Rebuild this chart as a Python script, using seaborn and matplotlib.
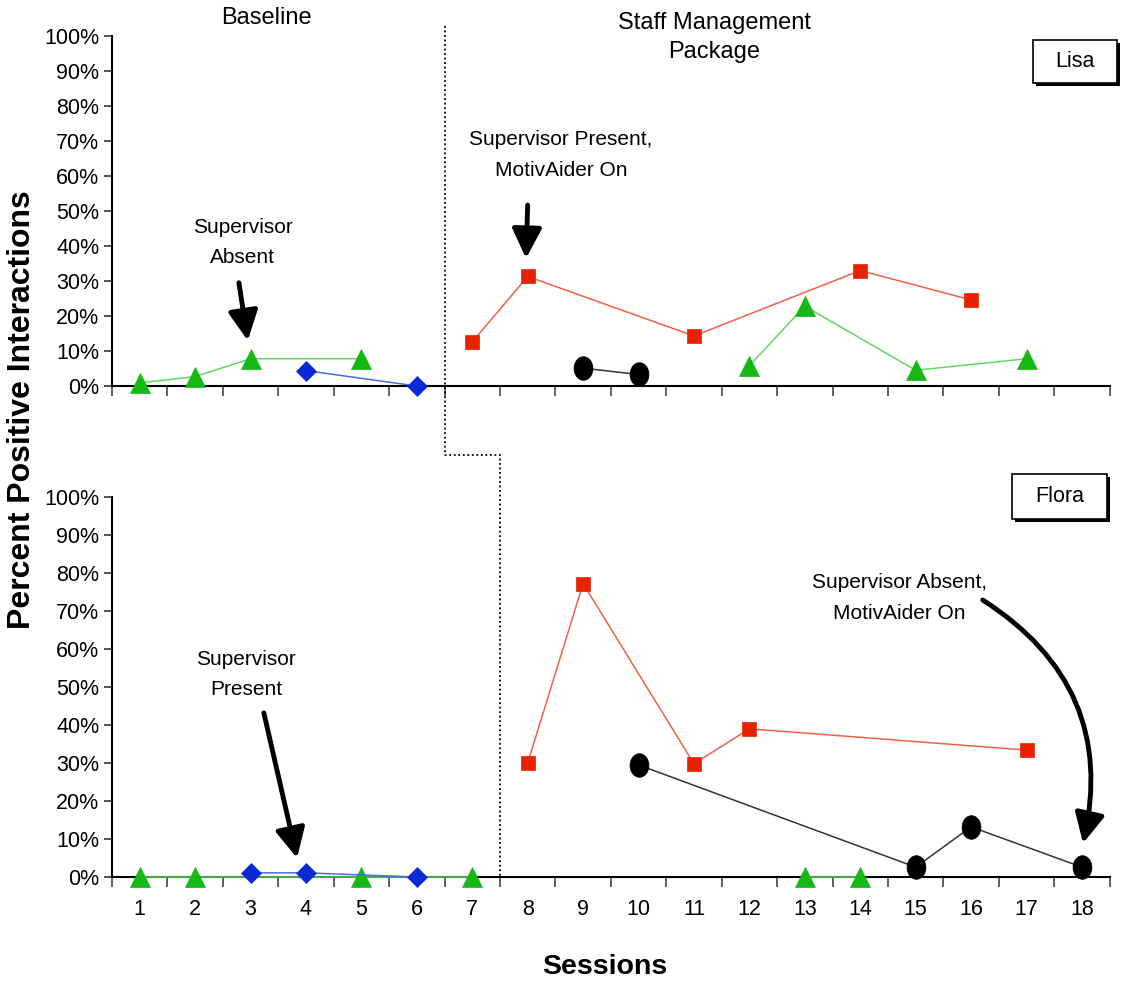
import matplotlib
matplotlib.use("Agg")
import matplotlib.pyplot as plt
import seaborn as sns
from matplotlib.path import Path
from matplotlib.transforms import Affine2D
from matplotlib.lines import Line2D
from matplotlib.patches import Rectangle

# --- data: percent positive interactions per session ---
session_ticks = list(range(1, 19))
pct_ticks = list(range(0, 101, 10))

# Lisa (top panel)
lisa_tri_base_x = [1, 2, 3, 5]
lisa_tri_base_y = [0.9, 2.7, 7.8, 7.8]
lisa_dia_x = [4, 6]
lisa_dia_y = [4.4, 0.0]
lisa_sq_x = [7, 8, 11, 14, 16]
lisa_sq_y = [12.6, 31.3, 14.3, 33.0, 24.6]
lisa_circ_x = [9, 10]
lisa_circ_y = [5.1, 3.3]
lisa_tri_trt_x = [12, 13, 15, 17]
lisa_tri_trt_y = [5.8, 22.8, 4.5, 7.8]

# Flora (bottom panel)
flora_tri_base_x = [1, 2, 5, 7]
flora_tri_base_y = [0, 0, 0, 0]
flora_dia_x = [3, 4, 6]
flora_dia_y = [1.1, 1.1, 0.0]
flora_sq_x = [8, 9, 11, 12, 17]
flora_sq_y = [30.0, 77.2, 29.8, 39.0, 33.4]
flora_circ_x = [10, 15, 16, 18]
flora_circ_y = [29.5, 2.6, 13.2, 2.6]
flora_tri_trt_x = [13, 14]
flora_tri_trt_y = [0, 0]

# --- styles ---
ellipse = Path.unit_circle().transformed(Affine2D().scale(0.8, 1.0))
styles = {
    "tri": dict(marker="^", markersize=14, mfc="#16B816", line="#62D862"),
    "dia": dict(marker="D", markersize=10, mfc="#0A28D6", line="#4A6AE2"),
    "sq": dict(marker="s", markersize=10, mfc="#E62200", line="#F2604A"),
    "circ": dict(marker=ellipse, markersize=17, mfc="black", line="#333333"),
}

sns.set_style("white")
plt.rcParams["font.family"] = ["Liberation Sans", "DejaVu Sans"]
plt.rcParams["text.color"] = "black"
plt.rcParams["xtick.color"] = "black"
plt.rcParams["ytick.color"] = "black"
narrow = ["Liberation Sans Narrow", "Liberation Sans", "DejaVu Sans"]

fig = plt.figure(figsize=(11.22, 9.82), dpi=100)
ax_top = fig.add_axes([0.0998, 0.6069, 0.8892, 0.3564])
ax_bot = fig.add_axes([0.0998, 0.1069, 0.8892, 0.3870])


def draw_series(ax, xs, ys, kind):
    st = styles[kind]
    sns.lineplot(x=xs, y=ys, ax=ax, color=st["line"], lw=1.1,
                 marker=st["marker"], markersize=st["markersize"],
                 markerfacecolor=st["mfc"], markeredgecolor=st["mfc"],
                 markeredgewidth=0.5, clip_on=False, zorder=5)


draw_series(ax_top, lisa_tri_base_x, lisa_tri_base_y, "tri")
draw_series(ax_top, lisa_dia_x, lisa_dia_y, "dia")
draw_series(ax_top, lisa_sq_x, lisa_sq_y, "sq")
draw_series(ax_top, lisa_circ_x, lisa_circ_y, "circ")
draw_series(ax_top, lisa_tri_trt_x, lisa_tri_trt_y, "tri")

draw_series(ax_bot, flora_tri_base_x, flora_tri_base_y, "tri")
draw_series(ax_bot, flora_dia_x, flora_dia_y, "dia")
draw_series(ax_bot, flora_sq_x, flora_sq_y, "sq")
draw_series(ax_bot, flora_circ_x, flora_circ_y, "circ")
draw_series(ax_bot, flora_tri_trt_x, flora_tri_trt_y, "tri")

for ax in (ax_top, ax_bot):
    ax.set_xlim(0.5, 18.5)
    ax.set_ylim(0, 100)
    ax.set_yticks(pct_ticks)
    ax.set_yticklabels([f"{v}%" for v in pct_ticks], fontsize=15.5)
    ax.set_xticks([s + 0.5 for s in [0] + session_ticks], minor=True)
    ax.tick_params(axis="x", which="minor", length=7, width=1.3,
                   color="#555555", direction="out", bottom=True)
    ax.tick_params(axis="y", length=6, width=1.2, color="#333333",
                   direction="out", left=True, pad=3)
    ax.set_xlabel("")
    ax.set_ylabel("")
    sns.despine(ax=ax)
    for sp in ("left", "bottom"):
        ax.spines[sp].set_linewidth(1.5)
        ax.spines[sp].set_color("black")

ax_top.set_xticks([])
ax_bot.set_xticks(session_ticks)
ax_bot.set_xticklabels([str(s) for s in session_ticks], fontsize=15.5)
ax_bot.tick_params(axis="x", which="major", length=0, pad=16)

# --- phase change line (dotted, stepped) ---
to_fig = fig.transFigure.inverted()
p1 = to_fig.transform(ax_top.transData.transform((6.5, 103)))
p2 = to_fig.transform(ax_bot.transData.transform((6.5, 111)))
p3 = to_fig.transform(ax_bot.transData.transform((7.5, 111)))
p4 = to_fig.transform(ax_bot.transData.transform((7.5, 0)))
fig.add_artist(Line2D([p1[0], p2[0], p3[0], p4[0]], [p1[1], p2[1], p3[1], p4[1]],
                      transform=fig.transFigure, color="black", lw=1.3,
                      linestyle=(0, (1, 1.5))))

# --- phase labels ---
ax_top.text(3.29, 1.052, "Baseline", transform=ax_top.get_xaxis_transform(),
            ha="center", va="center", fontsize=17)
ax_top.text(11.37, 0.996, "Staff Management\nPackage",
            transform=ax_top.get_xaxis_transform(), ha="center", va="center",
            fontsize=17, linespacing=1.45)

# --- annotations ---
arrow_kw = dict(arrowstyle="-|>,head_length=1.0,head_width=0.5", lw=3.5,
                color="black", shrinkA=0, shrinkB=0, mutation_scale=18)
ax_top.text(2.86, 41, "Supervisor\nAbsent", ha="center", va="center",
            fontsize=15, family=narrow, linespacing=1.75)
ax_top.annotate("", xy=(2.95, 13), xytext=(2.79, 29.5), arrowprops=arrow_kw)

ax_top.text(8.6, 66, "Supervisor Present,\nMotivAider On", ha="center",
            va="center", fontsize=15, family=narrow, linespacing=1.75)
ax_top.annotate("", xy=(7.97, 36.5), xytext=(8.0, 51.7), arrowprops=arrow_kw)

ax_bot.text(2.92, 53.2, "Supervisor\nPresent", ha="center", va="center",
            fontsize=15, family=narrow, linespacing=1.75)
ax_bot.annotate("", xy=(3.84, 5), xytext=(3.24, 43.2), arrowprops=arrow_kw)

ax_bot.text(14.71, 73.4, "Supervisor Absent,\nMotivAider On", ha="center",
            va="center", fontsize=15, family=narrow, linespacing=1.75)
curved = dict(arrow_kw, connectionstyle="arc3,rad=-0.35")
ax_bot.annotate("", xy=(18.02, 8.9), xytext=(16.21, 72.9), arrowprops=curved)

# --- participant name boxes (with drop shadow) ---
for (x0, y0, w, h, name) in [(0.9207, 0.9155, 0.0749, 0.0438, "Lisa"),
                             (0.9020, 0.4715, 0.0847, 0.0458, "Flora")]:
    fig.add_artist(Rectangle((x0 + 0.0025, y0 - 0.0028), w, h,
                             transform=fig.transFigure, facecolor="black",
                             edgecolor="black", lw=0))
    fig.add_artist(Rectangle((x0, y0), w, h, transform=fig.transFigure,
                             facecolor="white", edgecolor="black", lw=1.2))
    fig.text(x0 + w / 2, y0 + h / 2, name, ha="center", va="center", fontsize=15.5)

# --- axis titles ---
fig.text(0.0196, 0.5825, "Percent Positive Interactions", rotation=90,
         ha="center", va="center", fontsize=23, fontweight="bold")
fig.text(0.539, 0.0153, "Sessions", ha="center", va="center",
         fontsize=20.5, fontweight="bold")

fig.savefig("out.png", dpi=100)
